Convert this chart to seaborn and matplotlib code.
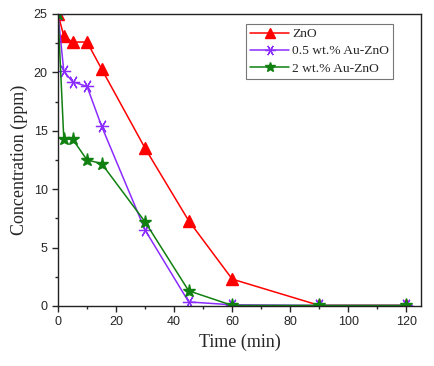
import matplotlib
matplotlib.use("Agg")
import matplotlib.pyplot as plt
from matplotlib.ticker import MultipleLocator
import seaborn as sns
import pandas as pd

time = [0, 2, 5, 10, 15, 30, 45, 60, 90, 120]
zno = [25.0, 23.1, 22.6, 22.6, 20.3, 13.5, 7.3, 2.3, 0.05, 0.05]
au05 = [25.0, 20.1, 19.2, 18.8, 15.4, 6.5, 0.35, 0.1, 0.05, 0.05]
au2 = [25.0, 14.3, 14.3, 12.5, 12.2, 7.2, 1.3, 0.05, 0.05, 0.05]
labels = ["ZnO", "0.5 wt.% Au-ZnO", "2 wt.% Au-ZnO"]

rows = []
for lab, vals in zip(labels, [zno, au05, au2]):
    for t, v in zip(time, vals):
        rows.append({"Time": t, "Conc": v, "Sample": lab})
df = pd.DataFrame(rows)

sns.set_style("ticks")
plt.rcParams["font.family"] = ["Liberation Serif", "DejaVu Serif"]

fig = plt.figure(figsize=(4.34, 3.66), dpi=100)
ax = fig.add_axes([58/434, 60/366, 363/434, 292/366])

palette = {"ZnO": "#ff0000", "0.5 wt.% Au-ZnO": "#8b2cff", "2 wt.% Au-ZnO": "#108010"}
markers = {"ZnO": "^", "0.5 wt.% Au-ZnO": (6, 2, 90), "2 wt.% Au-ZnO": "*"}
sizes = {"ZnO": 8.5, "0.5 wt.% Au-ZnO": 9.5, "2 wt.% Au-ZnO": 9.5}

for lab in labels:
    sub = df[df["Sample"] == lab]
    sns.lineplot(data=sub, x="Time", y="Conc", ax=ax, color=palette[lab],
                 marker=markers[lab], markersize=sizes[lab], linewidth=1.1,
                 markeredgecolor=palette[lab],
                 markeredgewidth=1.0 if lab != "0.5 wt.% Au-ZnO" else 0.9,
                 label=lab)
for ln in ax.lines:
    ln.set_clip_on(True)

ax.set_xlim(0, 125)
ax.set_ylim(0, 25)
ax.xaxis.set_major_locator(MultipleLocator(20))
ax.xaxis.set_minor_locator(MultipleLocator(10))
ax.yaxis.set_major_locator(MultipleLocator(5))
ax.yaxis.set_minor_locator(MultipleLocator(2.5))
ax.tick_params(which="major", direction="out", length=4, width=1, labelsize=9)
ax.tick_params(which="minor", direction="out", length=2.5, width=1)
for lbl in ax.get_xticklabels() + ax.get_yticklabels():
    lbl.set_fontfamily(["Liberation Sans", "DejaVu Sans"])
for s in ax.spines.values():
    s.set_visible(True)
    s.set_linewidth(1.0)
    s.set_color("#222222")

ax.set_xlabel("Time (min)", fontsize=13)
ax.set_ylabel("Concentration (ppm)", fontsize=13)

leg = ax.legend(loc="upper right", bbox_to_anchor=(0.935, 0.98), fontsize=9.7,
                frameon=True, fancybox=False, edgecolor="#555555", handlelength=2.9,
                handletextpad=0.25, borderpad=0.3, labelspacing=0.35, borderaxespad=0.3,
                markerscale=0.8)
leg.get_frame().set_linewidth(0.8)

fig.savefig("out.png", dpi=100)
